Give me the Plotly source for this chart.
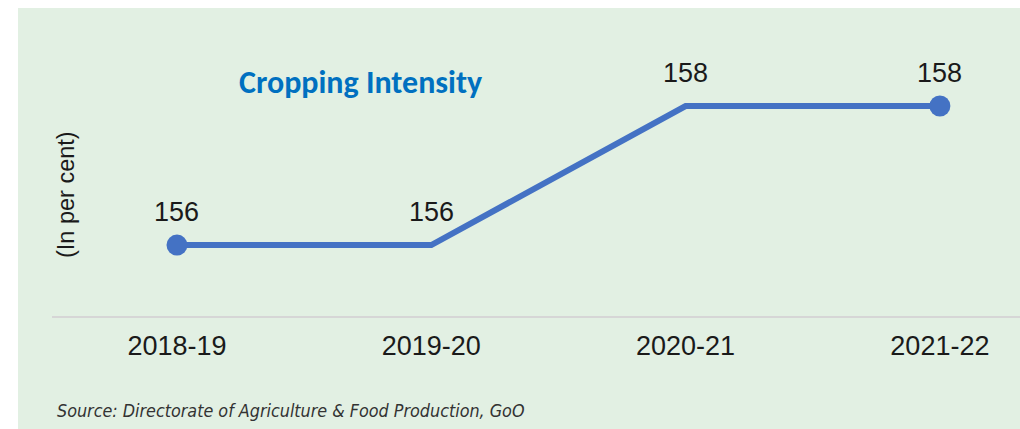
import plotly.graph_objects as go

years = ["2018-19", "2019-20", "2020-21", "2021-22"]
intensity = [156, 156, 158, 158]
marker_sizes = [21, 0, 0, 21]

W, H = 1020, 429
ML, MR, MT, MB = 52, 0, 8, 113
PW, PH = W - ML - MR, H - MT - MB

GREEN = "#E2F0E3"
BLUE = "#4472C4"

fig = go.Figure()
fig.add_trace(go.Scatter(
    x=years, y=intensity, mode="lines+markers",
    line=dict(color=BLUE, width=6),
    marker=dict(size=marker_sizes, color=BLUE, opacity=1, line=dict(width=0)),
    hoverinfo="skip", showlegend=False,
))

for xv, yv in zip(years, intensity):
    fig.add_annotation(x=xv, y=yv, text=str(yv), showarrow=False,
                       yshift=33, font=dict(family="Liberation Sans, Arial", size=27, color="#1a1a1a"))

def px_x(p):
    return (p - ML) / PW

def px_y(p):
    return (H - MB - p) / PH

# green panel
fig.add_shape(type="rect", xref="paper", yref="paper", layer="below",
              x0=px_x(18), x1=px_x(1020), y0=px_y(429), y1=px_y(8),
              fillcolor=GREEN, line=dict(width=0))

fig.add_annotation(xref="paper", yref="paper", x=px_x(360), y=px_y(82),
                   xanchor="center", yanchor="middle",
                   text="<b>Cropping Intensity</b>", showarrow=False,
                   font=dict(family="Carlito, Lato, Open Sans", size=32, color="#0070C0"))

fig.add_annotation(xref="paper", yref="paper", x=px_x(66), y=px_y(195),
                   xanchor="center", yanchor="middle",
                   text="(In per cent)", textangle=-90, showarrow=False,
                   font=dict(family="Liberation Sans, Arial", size=23.5, color="#1a1a1a"))

fig.add_annotation(xref="paper", yref="paper", x=px_x(55), y=px_y(410),
                   xanchor="left", yanchor="middle",
                   text="<i>Source: Directorate of Agriculture &amp; Food Production, GoO</i>",
                   showarrow=False,
                   font=dict(family="Liberation Sans Narrow, DejaVu Sans Condensed, Liberation Sans", size=17.8, color="#333333"))

fig.update_layout(
    width=W, height=H,
    margin=dict(l=ML, r=MR, t=MT, b=MB),
    paper_bgcolor="white", plot_bgcolor="rgba(0,0,0,0)",
    xaxis=dict(type="category", range=[-0.4915, 3.315], showgrid=False, zeroline=False,
               showline=True, linecolor="#D6D6D6", linewidth=2, ticks="",
               ticklabelstandoff=5,
               tickfont=dict(family="Liberation Sans, Arial", size=27, color="#1a1a1a")),
    yaxis=dict(range=[154.98, 159.41], showgrid=False, zeroline=False, showline=False,
               showticklabels=False, ticks=""),
)

fig.write_html("out.html", config={"displayModeBar": False},
               post_script="document.body.style.margin='0';document.body.style.padding='0';")
